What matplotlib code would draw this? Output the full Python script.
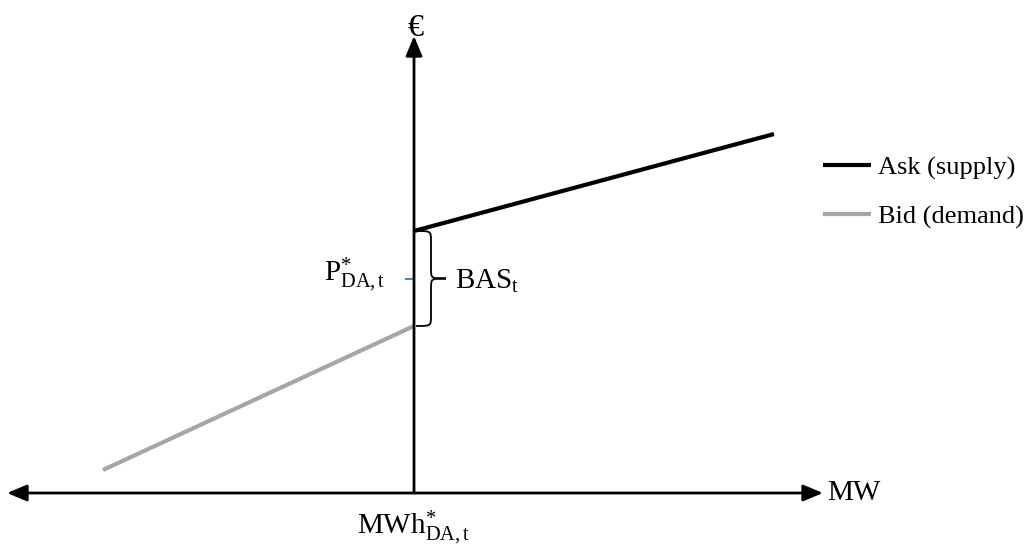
import matplotlib
matplotlib.use('Agg')
import matplotlib.pyplot as plt
from matplotlib.path import Path
from matplotlib.patches import PathPatch

plt.rcParams['mathtext.fontset'] = 'custom'
plt.rcParams['mathtext.rm'] = 'Liberation Serif'
plt.rcParams['mathtext.it'] = 'Liberation Serif:italic'

# schematic values (quantity, price), equilibrium quantity at 0
ask_q = [0, 360]
ask_p = [262, 359]
bid_q = [-311, 0]
bid_p = [23, 167]
series_labels = ['Ask (supply)', 'Bid (demand)']

price_label = r'$\mathrm{P}^{*}_{\mathrm{DA,t}}$'
qty_label = r'$\mathrm{MWh}^{*}_{\mathrm{DA,t}}$'
spread_label = r'$\mathrm{BAS}_{\mathrm{t}}$'

fig = plt.figure(figsize=(10.25, 5.5), dpi=100)
ax = fig.add_axes([0, 0, 1, 1])
ax.set_xlim(-414, 611)
ax.set_ylim(-57, 493)
ax.axis('off')

# axes with arrows
ax.annotate('', xy=(409, 0), xytext=(-407, 0),
            arrowprops=dict(arrowstyle='<|-|>,head_length=0.6,head_width=0.25',
                            mutation_scale=20, lw=2, color='black',
                            shrinkA=0, shrinkB=0))
ax.annotate('', xy=(0, 457), xytext=(0, 0),
            arrowprops=dict(arrowstyle='-|>,head_length=0.6,head_width=0.25',
                            mutation_scale=20, lw=2, color='black',
                            shrinkA=0, shrinkB=0))

ask_line, = ax.plot(ask_q, ask_p, color='black', lw=3, solid_capstyle='butt')
bid_line, = ax.plot(bid_q, bid_p, color='#a6a6a6', lw=3, solid_capstyle='butt')

# curly brace between best ask and best bid
yt, yb = ask_p[0], bid_p[1]
ym = (yt + yb) / 2
x0, w, q = 2, 30, 10
xs = x0 + w / 2
verts = [(x0, yt), (xs, yt), (xs, yt), (xs, yt - q),
         (xs, ym + q),
         (xs, ym), (xs, ym), (x0 + w, ym),
         (xs, ym), (xs, ym), (xs, ym - q),
         (xs, yb + q),
         (xs, yb), (xs, yb), (x0, yb)]
codes = [Path.MOVETO, Path.CURVE4, Path.CURVE4, Path.CURVE4,
         Path.LINETO,
         Path.CURVE4, Path.CURVE4, Path.CURVE4,
         Path.CURVE4, Path.CURVE4, Path.CURVE4,
         Path.LINETO,
         Path.CURVE4, Path.CURVE4, Path.CURVE4]
ax.add_patch(PathPatch(Path(verts, codes), fill=False, lw=1.3, color='black'))

# mid price tick
ax.plot([-8, -1], [ym, ym], color='#4f81bd', lw=1.5)

ax.text(1, 465, '€', fontsize=23, family='Liberation Serif', ha='center', va='center')
ax.text(413, 0, 'MW', fontsize=21, family='Liberation Serif', ha='left', va='center')
ax.text(0, -42, qty_label, fontsize=21, ha='center', va='baseline')
ax.text(-59, ym - 3, price_label, fontsize=21, ha='center', va='baseline')
ax.text(41, ym - 10, spread_label, fontsize=21, ha='left', va='baseline')

leg = ax.legend([ask_line, bid_line], series_labels, frameon=False,
                loc='upper left', bbox_to_anchor=(0.803, 0.716),
                prop={'family': 'Liberation Serif', 'size': 19},
                borderpad=0, borderaxespad=0,
                handlelength=1.8, handletextpad=0.3, labelspacing=0.95)

fig.savefig('out.png', dpi=100)
